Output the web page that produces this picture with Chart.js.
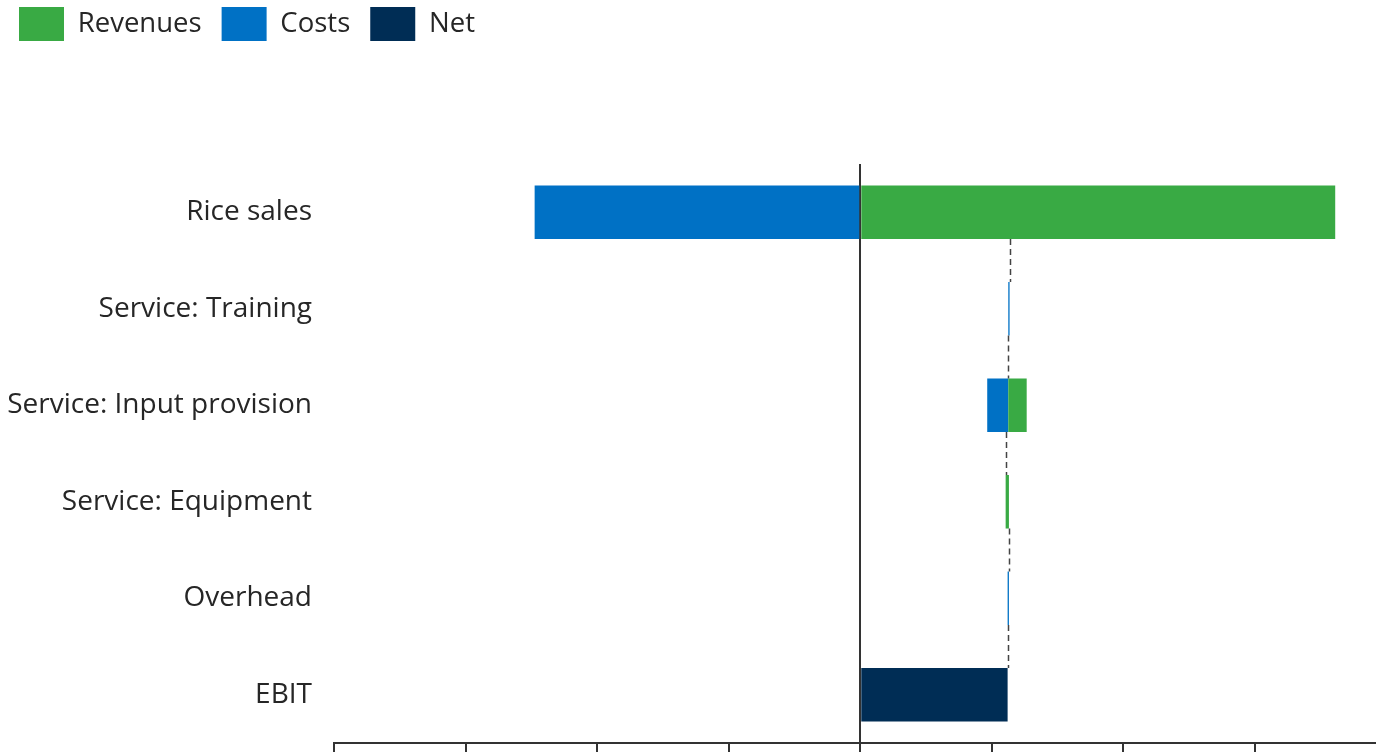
<!DOCTYPE html>
<html>
<head>
<meta charset="utf-8">
<script src="https://cdn.jsdelivr.net/npm/chart.js@4.4.1/dist/chart.umd.min.js"></script>
<style>
  html, body { margin: 0; padding: 0; background: #fff; overflow: hidden; }
  #wrap { width: 1376px; height: 752px; }
</style>
</head>
<body>
<div id="wrap"><canvas id="waterfallChart"></canvas></div>
<script>
// chart data
const categories = ["Rice sales", "Service: Training", "Service: Input provision", "Service: Equipment", "Overhead", "EBIT"];
const revenues = [361, 0, 14, 2.5, 0, null];
const costs = [247.5, 1, 16, 0, 1, null];
const net = [null, null, null, null, null, 112];
const xTicks = [-400, -300, -200, -100, 0, 100, 200, 300];

const GREEN = "#39AA44";
const BLUE = "#0071C5";
const NAVY = "#002D55";
const TEXT = "#262626";

document.addEventListener("DOMContentLoaded", () => {
  renderWaterfall("waterfallChart");
});

function renderWaterfall(id) {
  const ctx = document.getElementById(id);
  if (!ctx) return;

  // running total before each row
  const base = [];
  let run = 0;
  categories.forEach((c, i) => {
    base.push(run);
    if (net[i] == null) run += (revenues[i] || 0) - (costs[i] || 0);
  });
  base.push(run);

  const revBars = revenues.map((v, i) => v ? [base[i], base[i] + v] : null);
  const costBars = costs.map((v, i) => v ? [base[i] - v, base[i]] : null);
  const netBars = net.map(v => v == null ? null : [0, v]);

  const connectors = {
    id: "connectors",
    afterDatasetsDraw(chart) {
      const x = chart.scales.x, y = chart.scales.y, g = chart.ctx;
      const step = y.getPixelForValue(1) - y.getPixelForValue(0);
      const half = step * 0.555 / 2;
      g.save();
      g.strokeStyle = "#444";
      g.lineWidth = 1.5;
      g.setLineDash([6, 4]);
      for (let i = 0; i < categories.length - 1; i++) {
        const px = Math.round(x.getPixelForValue(base[i + 1])) + 0.5;
        g.beginPath();
        g.moveTo(px, y.getPixelForValue(i) + half);
        g.lineTo(px, y.getPixelForValue(i + 1) - half);
        g.stroke();
      }
      g.restore();
    }
  };

  new Chart(ctx, {
    type: "bar",
    data: {
      labels: categories,
      datasets: [
        { label: "Revenues", data: revBars, backgroundColor: GREEN },
        { label: "Costs", data: costBars, backgroundColor: BLUE },
        { label: "Net", data: netBars, backgroundColor: NAVY },
      ],
    },
    options: {
      indexAxis: "y",
      responsive: true,
      maintainAspectRatio: false,
      animation: false,
      datasets: {
        bar: { grouped: false, barPercentage: 0.555, categoryPercentage: 1, borderWidth: 0 }
      },
      layout: { autoPadding: false, padding: { top: -13, left: -1, right: 0, bottom: 0 } },
      plugins: {
        legend: {
          position: "top",
          align: "start",
          labels: {
            boxWidth: 45,
            boxHeight: 34,
            padding: 20,
            color: TEXT,
            font: { family: "'Open Sans'", size: 27.5 },
          }
        },
        subtitle: {
          display: true,
          text: " ",
          weight: 500,
          font: { size: 10 },
          padding: { top: 0, bottom: 101 },
        },
        tooltip: { enabled: false },
      },
      scales: {
        x: {
          type: "linear",
          min: -400,
          max: 392,
          afterBuildTicks: (s) => { s.ticks = xTicks.map(v => ({ value: v })); },
          ticks: { display: false },
          grid: {
            color: (c) => (c.tick && c.tick.value === 0 ? "#333" : "rgba(0,0,0,0)"),
            tickColor: "#333",
            lineWidth: 2,
            tickLength: 9,
          },
          border: { display: true, color: "#333", width: 2 },
        },
        y: {
          afterFit: (s) => { s.width = 335; s.paddingTop = 0; s.paddingBottom = 0; },
          grid: { display: false },
          border: { display: false },
          ticks: {
            color: TEXT,
            padding: 14,
            font: { family: "'Open Sans'", size: 28 },
          },
        },
      },
    },
    plugins: [connectors],
  });
}
</script>
</body>
</html>
